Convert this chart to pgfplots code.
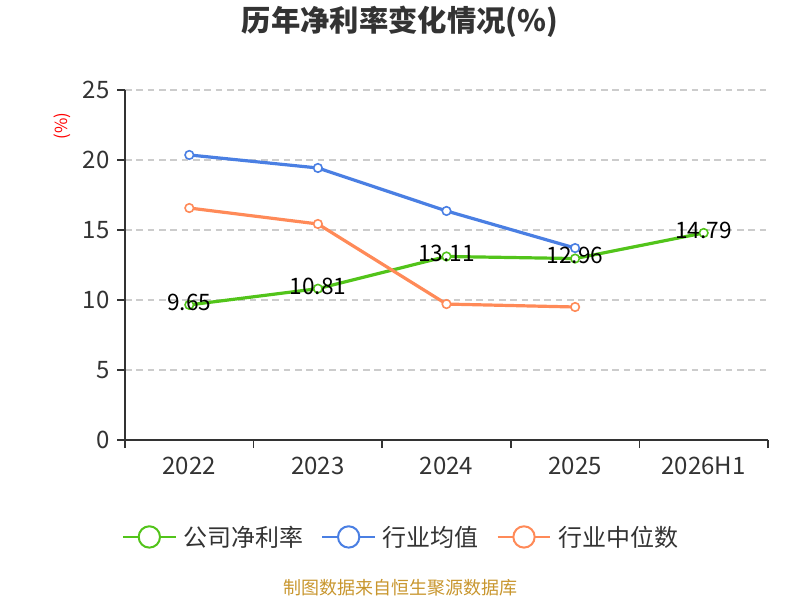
\documentclass[border=0pt]{standalone}
\usepackage{pgfplots}
\pgfplotsset{compat=1.18}
\usepackage{fontspec}
\setmainfont{Noto Sans CJK SC}
\definecolor{cgreen}{HTML}{52C41A}
\definecolor{cblue}{HTML}{4A7FE3}
\definecolor{corange}{HTML}{FF8A58}
\definecolor{ctext}{HTML}{333333}
\definecolor{cgrid}{HTML}{CCCCCC}
\definecolor{cfoot}{HTML}{C8962E}
\begin{document}
\begin{tikzpicture}[x=0.75pt,y=0.75pt]
\path[use as bounding box] (0,0) rectangle (800,600);
\begin{axis}[
  at={(93.75pt,120pt)}, anchor=south west,
  width=482.25pt, height=262.5pt, scale only axis,
  xmin=-0.5, xmax=4.5, ymin=0, ymax=25,
  axis x line*=bottom, axis y line*=left,
  axis line style={-, draw=ctext, line width=1.5pt},
  xtick={-0.5,0.5,1.5,2.5,3.5,4.5}, xticklabels={},
  extra x ticks={0,1,2,3,4},
  extra x tick labels={2022,2023,2024,2025,2026H1},
  extra x tick style={major tick length=0pt, tick style={draw=none}},
  ytick={0,5,10,15,20,25},
  tick align=outside, major tick length=6pt,
  tick style={draw=ctext, line width=1.2pt},
  ymajorgrids,
  grid style={draw=cgrid, line width=1pt, dash pattern=on 5pt off 3.5pt},
  ticklabel style={font=\fontsize{18}{20}\selectfont, text=ctext},
  xticklabel style={yshift=-9pt},
  yticklabel style={xshift=-2pt},
  /pgf/number format/assume math mode=true,
  legend style={at={(0.4277,-0.277)}, anchor=center, draw=none, fill=none,
    legend columns=3, font=\fontsize{18}{20}\selectfont, text=ctext,
    nodes={inner sep=0pt},
    /tikz/every odd column/.append style={column sep=5pt},
    /tikz/every even column/.append style={column sep=13.5pt}},
  legend cell align=left,
  legend image code/.code={
    \draw[#1, line width=1.5pt] (0pt,0pt) -- (39.5pt,0pt);
    \draw[#1, line width=1.5pt, fill=white] (19.75pt,0pt) circle (8pt);},
]
\addplot[cgreen, line width=2.4pt, mark=*, mark size=3.2pt,
  mark options={fill=white, draw=cgreen, line width=1.2pt},
  point meta=explicit symbolic, nodes near coords,
  every node near coord/.append style={anchor=center, yshift=2pt,
    font=\fontsize{17}{20}\selectfont, text=black}]
  coordinates {(0,9.65)[9.65] (1,10.81)[10.81] (2,13.11)[13.11] (3,12.96)[12.96] (4,14.79)[14.79]};
\addlegendentry{公司净利率}
\addplot[cblue, line width=2.4pt, mark=*, mark size=3.2pt,
  mark options={fill=white, draw=cblue, line width=1.2pt}]
  coordinates {(0,20.36) (1,19.43) (2,16.36) (3,13.71)};
\addlegendentry{行业均值}
\addplot[corange, line width=2.4pt, mark=*, mark size=3.2pt,
  mark options={fill=white, draw=corange, line width=1.2pt}]
  coordinates {(0,16.57) (1,15.43) (2,9.71) (3,9.50)};
\addlegendentry{行业中位数}
\end{axis}
\node[font=\bfseries\fontsize{22}{24}\selectfont, text=ctext] at (400,578) {历年净利率变化情况(\%)};
\node[rotate=90, font=\fontsize{12.5}{14}\selectfont, text=red] at (62,474) {(\%)};
\node[font=\fontsize{13.5}{16}\selectfont, text=cfoot] at (400,12) {制图数据来自恒生聚源数据库};
\end{tikzpicture}
\end{document}
